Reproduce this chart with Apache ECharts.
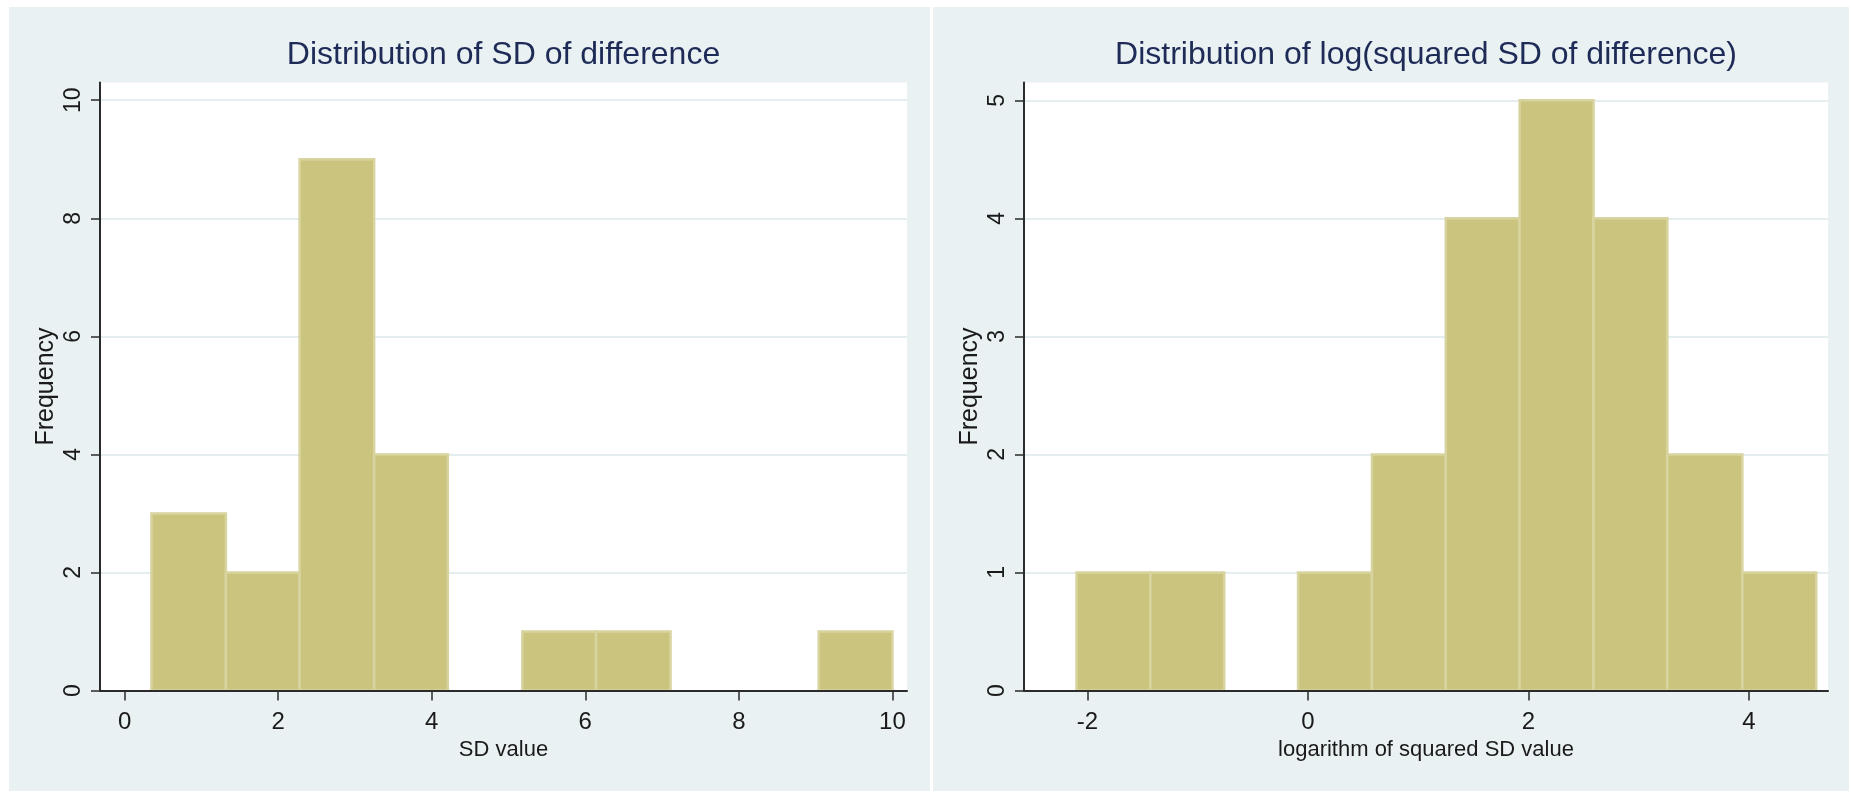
<!DOCTYPE html>
<html>
<head>
<meta charset="utf-8">
<script src="https://cdn.jsdelivr.net/npm/echarts@6/dist/echarts.min.js"></script>
<style>
  html, body { margin: 0; padding: 0; background: #ffffff; }
  #chart { width: 1851px; height: 795px; }
</style>
</head>
<body>
<div id="chart"></div>
<script>
// Histogram of SD of difference: bin edges and counts
const sdBinEdges = [0.35, 1.32, 2.28, 3.25, 4.21, 5.18, 6.14, 7.11, 8.07, 9.04, 10.0];
const sdCounts = [3, 2, 9, 4, 0, 1, 1, 0, 0, 1];

// Histogram of log(squared SD of difference): bin edges and counts
const logBinEdges = [-2.10, -1.43, -0.76, -0.09, 0.58, 1.25, 1.92, 2.59, 3.26, 3.94, 4.61];
const logCounts = [1, 1, 0, 1, 2, 4, 5, 4, 2, 1];

// Tick labels
const sdTicks = [0, 2, 4, 6, 8, 10];
const logTicks = [-2, 0, 2, 4];
const sdFreqTicks = [0, 2, 4, 6, 8, 10];
const logFreqTicks = [0, 1, 2, 3, 4, 5];

// Texts
const titles = ['Distribution of SD of difference', 'Distribution of log(squared SD of difference)'];
const xNames = ['SD value', 'logarithm of squared SD value'];
const yName = 'Frequency';

const FONT = 'Liberation Sans, Arial, Helvetica, sans-serif';
const PANEL_BG = '#E9F1F3';
const AXIS_COLOR = '#2b2b2b';
const BAR_FILL = '#CBC47F';
const BAR_EDGE = '#D8D49F';

function toBins(edges, counts) {
  return counts.map((c, i) => [edges[i], edges[i + 1], c]);
}

function renderBin(params, api) {
  const count = api.value(2);
  if (!count) return null;
  const topLeft = api.coord([api.value(0), count]);
  const bottomRight = api.coord([api.value(1), 0]);
  return {
    type: 'rect',
    shape: {
      x: topLeft[0],
      y: topLeft[1],
      width: bottomRight[0] - topLeft[0],
      height: bottomRight[1] - topLeft[1]
    },
    style: { fill: BAR_FILL, stroke: BAR_EDGE, lineWidth: 2.5 }
  };
}

// x axis sits above the bars so the baseline stays crisp
function xAxisFor(gridIndex, min, max, ticks, name) {
  return {
    type: 'value', gridIndex, min, max, z: 5,
    name, nameLocation: 'middle', nameGap: 48,
    nameTextStyle: { fontFamily: FONT, fontSize: 22, color: '#1a1a1a' },
    axisLine: { show: true, onZero: false, lineStyle: { color: AXIS_COLOR, width: 2 } },
    axisTick: { show: true, length: 10, customValues: ticks, lineStyle: { color: AXIS_COLOR, width: 1.5 } },
    axisLabel: { customValues: ticks, margin: 20, fontFamily: FONT, fontSize: 24, color: '#1a1a1a' },
    splitLine: { show: false }
  };
}

// y axis stays below the bars so its grid lines are hidden behind them
function yAxisFor(gridIndex, max, ticks) {
  return {
    type: 'value', gridIndex, min: 0, max, z: 0,
    name: yName, nameLocation: 'middle', nameGap: 41,
    nameTextStyle: { fontFamily: FONT, fontSize: 25, color: '#1a1a1a' },
    axisLine: { show: true, onZero: false, lineStyle: { color: AXIS_COLOR, width: 2 } },
    axisTick: { show: true, length: 9, customValues: ticks, lineStyle: { color: AXIS_COLOR, width: 1.5 } },
    axisLabel: { customValues: ticks, rotate: 90, margin: 15, fontFamily: FONT, fontSize: 23, color: '#1a1a1a' },
    splitLine: { show: true, lineStyle: { color: '#E4EDF0', width: 2 } }
  };
}

const chart = echarts.init(document.getElementById('chart'), null, { renderer: 'canvas' });

chart.setOption({
  animation: false,
  backgroundColor: '#ffffff',
  graphic: [
    { type: 'rect', z: -10, shape: { x: 9, y: 7, width: 921, height: 784 }, style: { fill: PANEL_BG } },
    { type: 'rect', z: -10, shape: { x: 933, y: 7, width: 916, height: 784 }, style: { fill: PANEL_BG } }
  ],
  title: [
    {
      text: titles[0], left: 503.5, top: 39, padding: 0, textAlign: 'center',
      textStyle: { fontFamily: FONT, fontSize: 32, fontWeight: 'normal', color: '#1e2b57' }
    },
    {
      text: titles[1], left: 1426, top: 39, padding: 0, textAlign: 'center',
      textStyle: { fontFamily: FONT, fontSize: 32, fontWeight: 'normal', color: '#1e2b57' }
    }
  ],
  grid: [
    { left: 100, top: 82.5, width: 807, height: 608, show: true, backgroundColor: '#ffffff', borderWidth: 0 },
    { left: 1024, top: 82.5, width: 804, height: 608, show: true, backgroundColor: '#ffffff', borderWidth: 0 }
  ],
  xAxis: [
    xAxisFor(0, -0.32, 10.19, sdTicks, xNames[0]),
    xAxisFor(1, -2.576, 4.717, logTicks, xNames[1])
  ],
  yAxis: [
    yAxisFor(0, 10.3, sdFreqTicks),
    yAxisFor(1, 5.151, logFreqTicks)
  ],
  series: [
    {
      type: 'custom', xAxisIndex: 0, yAxisIndex: 0, z: 2,
      renderItem: renderBin,
      encode: { x: [0, 1], y: 2 },
      data: toBins(sdBinEdges, sdCounts)
    },
    {
      type: 'custom', xAxisIndex: 1, yAxisIndex: 1, z: 2,
      renderItem: renderBin,
      encode: { x: [0, 1], y: 2 },
      data: toBins(logBinEdges, logCounts)
    }
  ]
});
</script>
</body>
</html>
